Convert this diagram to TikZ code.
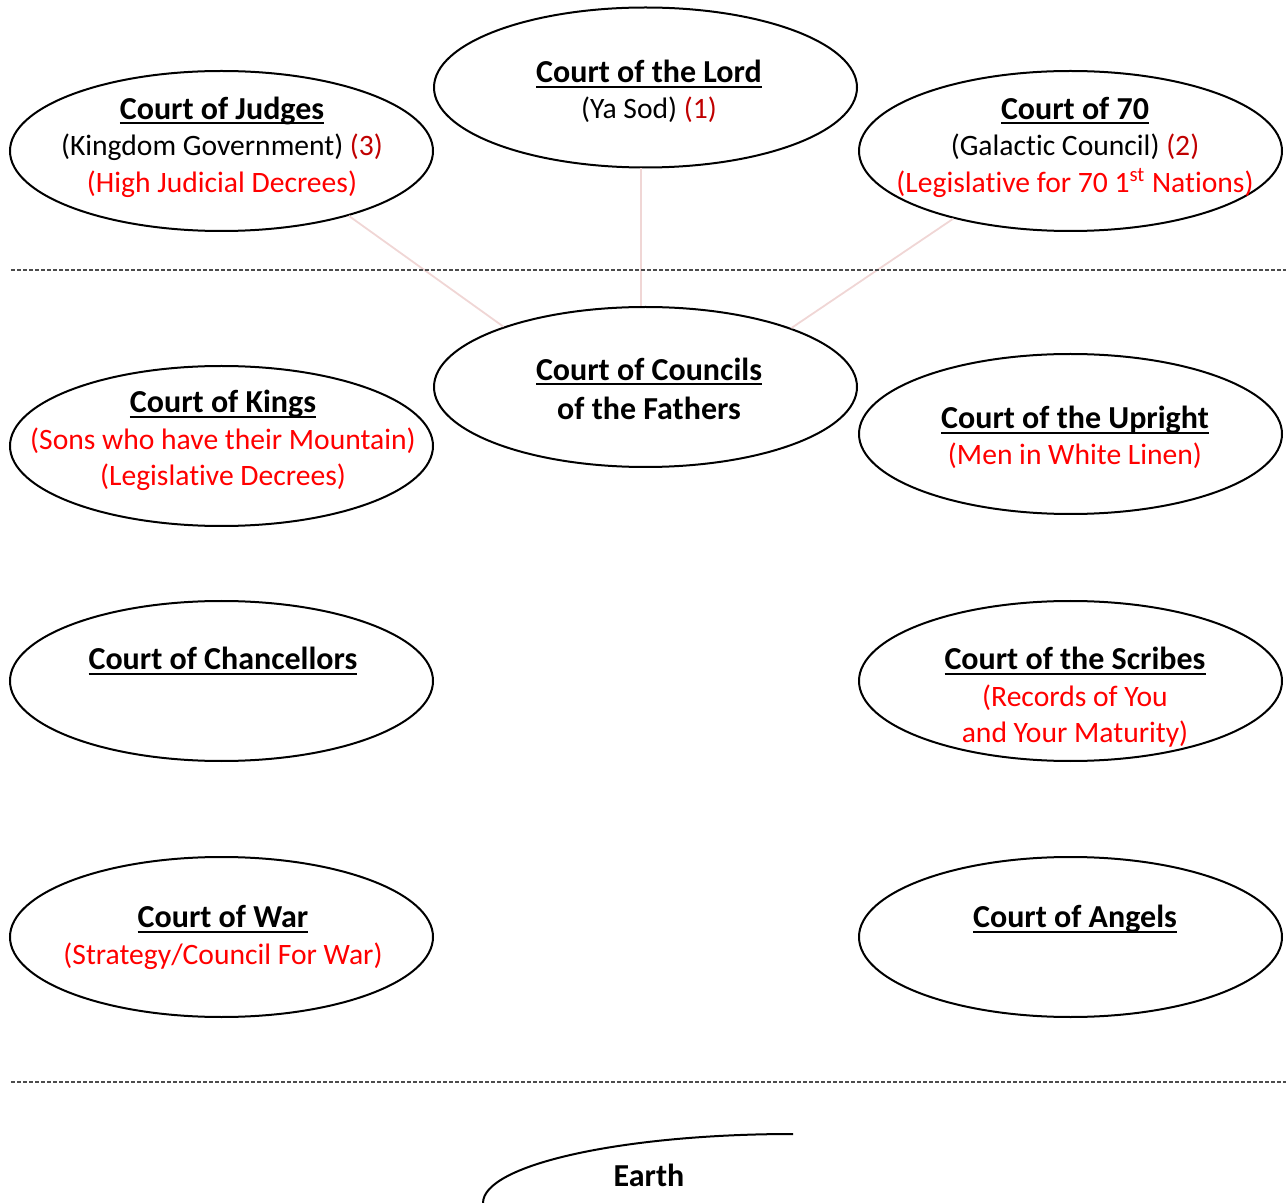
\documentclass[tikz,border=0pt]{standalone}
\usepackage{fontspec}
\setmainfont{Carlito}[Ligatures=NoCommon]
\usetikzlibrary{shapes.geometric}
\definecolor{darkred}{HTML}{C00000}
\definecolor{linkpink}{HTML}{F0D6D5}
\newcommand{\courtbold}[1]{{\fontsize{16}{18.25}\selectfont\bfseries #1}}
\newcommand{\courtname}[1]{\setbox0\hbox{\courtbold{#1}}\rlap{\rule[-2.6pt]{\wd0}{1pt}}\box0}

\begin{document}
\begin{tikzpicture}[x=0.5pt,y=-0.5pt,
		court/.style={draw,ellipse,line width=1pt,minimum width=211.5pt,minimum height=80pt,inner sep=0pt},
		txt/.style={align=center,inner sep=0pt,font=\fontsize{14.8}{18.25}\selectfont},
		link/.style={draw=linkpink,line width=0.9pt},
		sepline/.style={draw=black!70,line width=0.75pt,dash pattern=on 2pt off 1pt}]
		%%%%% START %%%%%
		
		\useasboundingbox (0,0) rectangle (1286,1203);
		
		% heavenly courts
		\node[court] (lord) at (645.5, 87.5) {};
		\node[court] (judges) at (221.5, 151) {};
		\node[court] (seventy) at (1070.5, 151) {};
		\node[court] (councils) at (645.5, 387) {};
		\node[court] (kings) at (221.5, 446) {};
		\node[court] (upright) at (1070.5, 434) {};
		\node[court] (chancellors) at (221.5, 681) {};
		\node[court] (scribes) at (1070.5, 681) {};
		\node[court] (war) at (221.5, 937) {};
		\node[court] (angels) at (1070.5, 937) {};
		
		\node[txt] (lordtxt) at (649, 91.5) {\courtname{Court of the Lord}\\(Ya Sod) \textcolor{darkred}{(1)}};
		\node[txt] (judgestxt) at (222, 147) {\courtname{Court of Judges}\\(Kingdom Government) \textcolor{darkred}{(3)}\\\textcolor{red}{(High Judicial Decrees)}};
		\node[txt] (seventytxt) at (1075, 147) {\courtname{Court of 70}\\(Galactic Council) \textcolor{darkred}{(2)}\\\textcolor{red}{(Legislative for 70 1\textsuperscript{st} Nations)}};
		\node[txt] (councilstxt) at (649, 388.5) {\courtname{Court of Councils}\\[1.25pt]\courtbold{of the Fathers}};
		\node[txt] (kingstxt) at (223, 440.7) {\courtname{Court of Kings}\\\textcolor{red}{(Sons who have their Mountain)}\\\textcolor{red}{(Legislative Decrees)}};
		\node[txt] (uprighttxt) at (1075, 437.5) {\courtname{Court of the Upright}\\\textcolor{red}{(Men in White Linen)}};
		\node[txt] (chancellorstxt) at (223, 661) {\courtname{Court of Chancellors}};
		\node[txt] (scribestxt) at (1075, 697.2) {\courtname{Court of the Scribes}\\\textcolor{red}{(Records of You}\\\textcolor{red}{and Your Maturity)}};
		\node[txt] (wartxt) at (223, 937.5) {\courtname{Court of War}\\\textcolor{red}{(Strategy/Council For War)}};
		\node[txt] (angelstxt) at (1075, 919) {\courtname{Court of Angels}};
		
		% links to the councils
		\draw[link] (judges.-27) -- (councils.157);
		\draw[link] (lord.-93.2) -- (councils.93.2);
		\draw[link] (seventy.-150) -- (councils.22);
		
		% realm separators
		\coordinate (topleft) at (11, 270);
		\coordinate (topright) at (1286, 270);
		\coordinate (lowleft) at (11, 1082);
		\coordinate (lowright) at (1286, 1082);
		\draw[sepline] (topleft) -- (topright);
		\draw[sepline] (lowleft) -- (lowright);
		
		% earth
		\draw[line width=1pt] (483, 1203) arc (180:270:310 and 69);
		\node[txt] (earth) at (649, 1175) {\courtbold{Earth}};
		
		%%%%% END %%%%%
	\end{tikzpicture}
\end{document}
